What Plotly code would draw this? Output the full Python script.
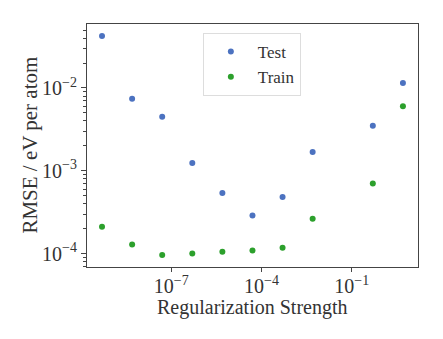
import plotly.graph_objects as go

# Regularization strengths (x) and RMSE values
reg_strength = [5e-10, 5e-9, 5e-8, 5e-7, 5e-6, 5e-5, 5e-4, 5e-3, 5e-1, 5e0]
rmse_test = [0.0425, 0.00743, 0.00451, 0.001245, 0.00054, 0.00029, 0.000483, 0.001686, 0.00351, 0.01149]
rmse_train = [0.000212, 0.0001297, 0.0000964, 0.0001009, 0.0001057, 0.0001097, 0.000118, 0.000265, 0.000706, 0.00601]

x_tick_vals = [1e-7, 1e-4, 1e-1]
x_tick_text = ["10<sup>\u22127</sup>", "10<sup>\u22124</sup>", "10<sup>\u22121</sup>"]
y_tick_vals = [1e-4, 1e-3, 1e-2]
y_tick_text = ["10<sup>\u22124</sup>", "10<sup>\u22123</sup>", "10<sup>\u22122</sup>"]
y_minor_vals = [m * 10.0 ** e for e in (-5, -4, -3, -2) for m in range(2, 10)]

FONT = "Liberation Serif"
AXIS_COLOR = "#444444"
TEXT_COLOR = "#333333"

fig = go.Figure()
fig.add_trace(go.Scatter(
    x=reg_strength, y=rmse_test, mode="markers", name="Test",
    marker=dict(color="#4c72c0", size=6),
))
fig.add_trace(go.Scatter(
    x=reg_strength, y=rmse_train, mode="markers", name="Train",
    marker=dict(color="#2ca02c", size=6),
))

axis_common = dict(
    type="log",
    automargin=False,
    showgrid=False,
    zeroline=False,
    showline=True,
    linecolor=AXIS_COLOR,
    linewidth=1.2,
    mirror=True,
    ticks="outside",
    tickcolor=AXIS_COLOR,
    tickwidth=1,
    ticklen=4,
    tickmode="array",
    tickfont=dict(family=FONT, size=20, color=TEXT_COLOR),
)

# the page body adds an 8px offset, so margins are shifted to compensate
fig.update_layout(
    width=443,
    height=339,
    margin=dict(l=79, r=33, t=16, b=80),
    paper_bgcolor="white",
    plot_bgcolor="white",
    font=dict(family=FONT, color=TEXT_COLOR),
    showlegend=True,
    legend=dict(
        x=0.35, y=0.963, xanchor="left", yanchor="top",
        bordercolor="#dddddd", borderwidth=1,
        bgcolor="rgba(255,255,255,0.8)",
        font=dict(family=FONT, size=17, color=TEXT_COLOR),
        itemwidth=44,
        tracegroupgap=0,
    ),
    xaxis=dict(
        axis_common,
        range=[-9.8, 1.2],
        tickvals=x_tick_vals,
        ticktext=x_tick_text,
        ticklabelstandoff=-3,
    ),
    yaxis=dict(
        axis_common,
        range=[-4.16, -1.228],
        tickvals=y_tick_vals,
        ticktext=y_tick_text,
        ticklen=5,
        minor=dict(tickmode="array", tickvals=y_minor_vals, ticks="outside", ticklen=3,
                   tickcolor=AXIS_COLOR, tickwidth=1),
    ),
    annotations=[
        dict(text="Regularization Strength", xref="paper", yref="paper",
             x=0.5, y=-0.166, xanchor="center", yanchor="middle", showarrow=False,
             font=dict(family=FONT, size=20, color=TEXT_COLOR)),
        dict(text="RMSE / eV per atom", xref="paper", yref="paper",
             x=-0.175, y=0.5, xanchor="center", yanchor="middle", showarrow=False,
             textangle=-90, font=dict(family=FONT, size=21, color=TEXT_COLOR)),
    ],
)

fig.write_html("out.html")
